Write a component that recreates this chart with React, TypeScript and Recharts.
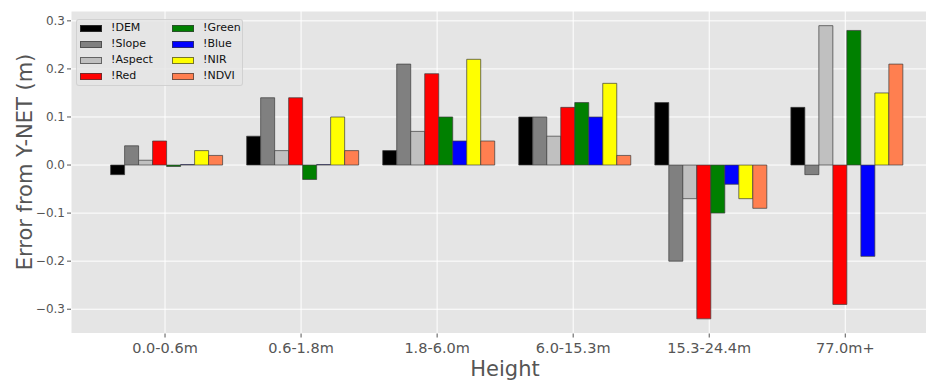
import React from "react";
import { BarChart, Bar, XAxis, YAxis, CartesianGrid, Legend } from "recharts";

const categories = ["0.0-0.6m", "0.6-1.8m", "1.8-6.0m", "6.0-15.3m", "15.3-24.4m", "77.0m+"];
const dem = [-0.02, 0.06, 0.03, 0.10, 0.13, 0.12];
const slope = [0.04, 0.14, 0.21, 0.10, -0.20, -0.02];
const aspect = [0.01, 0.03, 0.07, 0.06, -0.07, 0.29];
const red = [0.05, 0.14, 0.19, 0.12, -0.32, -0.29];
const green = [-0.003, -0.03, 0.10, 0.13, -0.10, 0.28];
const blue = [0.001, 0.001, 0.05, 0.10, -0.04, -0.19];
const nir = [0.03, 0.10, 0.22, 0.17, -0.07, 0.15];
const ndvi = [0.02, 0.03, 0.05, 0.02, -0.09, 0.21];
const yTicks = [-0.3, -0.2, -0.1, 0, 0.1, 0.2, 0.3];

const seriesNames = ["!DEM", "!Slope", "!Aspect", "!Red", "!Green", "!Blue", "!NIR", "!NDVI"];
const seriesValues = [dem, slope, aspect, red, green, blue, nir, ndvi];
const seriesColors = ["#000000", "#808080", "#C0C0C0", "#FF0000", "#008000", "#0000FF", "#FFFF00", "#FF7F50"];

const data = categories.map((c, i) => {
  const row: Record<string, string | number> = { cat: c };
  seriesNames.forEach((n, k) => {
    row[n] = seriesValues[k][i];
  });
  return row;
});

const FONT = "'DejaVu Sans', sans-serif";

const fmtY = (v: number) => (v < 0 ? "\u2212" : "") + Math.abs(v).toFixed(1);

const LegendBox = () => (
  <div
    style={{
      position: "relative",
      width: 167,
      height: 67,
      boxSizing: "border-box",
      background: "rgba(229,229,229,0.8)",
      border: "1px solid rgba(204,204,204,0.8)",
      borderRadius: 3,
      fontFamily: FONT,
      fontSize: 11,
      color: "#111",
    }}
  >
    {seriesNames.map((n, k) => {
      const col = Math.floor(k / 4);
      const row = k % 4;
      const left = 3 + col * 92;
      const cy = 8 + row * 16.1;
      return (
        <div key={n} style={{ position: "absolute", left, top: cy - 7, height: 14, display: "flex", alignItems: "center", whiteSpace: "nowrap" }}>
          <span
            style={{
              display: "inline-block",
              width: 22,
              height: 7,
              boxSizing: "border-box",
              background: seriesColors[k],
              border: "1px solid rgba(60,60,60,0.7)",
              marginRight: 9,
            }}
          />
          <span style={{ lineHeight: "14px" }}>{n}</span>
        </div>
      );
    })}
  </div>
);

const YLabel = () => (
  <text
    x={32}
    y={162}
    transform="rotate(-90 32 162)"
    textAnchor="middle"
    fill="#555555"
    fontSize={21}
    fontFamily={FONT}
  >
    Error from Y-NET (m)
  </text>
);

const XLabel = () => (
  <text x={505} y={376} textAnchor="middle" fill="#555555" fontSize={21} fontFamily={FONT}>
    Height
  </text>
);

export default function App() {
  return (
    <div style={{ position: "absolute", left: 0, top: 0, width: 926, height: 380, overflow: "hidden", background: "#fff" }}>
      <BarChart
        width={950}
        height={380}
        data={data}
        margin={{ top: 11, right: 10.7, bottom: 16.5, left: 0 }}
        barCategoryGap="10%"
        barGap={0}
      >
        <CartesianGrid stroke="#FFFFFF" strokeWidth={1} fill="#E5E5E5" />
        <XAxis
          dataKey="cat"
          height={30}
          padding={{ left: 26, right: 26 }}
          axisLine={false}
          tickSize={4}
          tickMargin={5}
          tickLine={{ stroke: "#555555" }}
          tick={{ fill: "#555555", fontSize: 14.5, fontFamily: FONT }}
          interval={0}
          label={<XLabel />}
        />
        <YAxis
          type="number"
          width={71}
          domain={[-0.3505, 0.3205]}
          allowDataOverflow
          ticks={yTicks}
          tickFormatter={fmtY}
          axisLine={false}
          tickSize={4}
          tickMargin={2}
          tickLine={{ stroke: "#555555" }}
          tick={{ fill: "#555555", fontSize: 12, fontFamily: FONT }}
          label={<YLabel />}
        />
        <Legend
          layout="vertical"
          align="center"
          verticalAlign="middle"
          content={<LegendBox />}
          wrapperStyle={{ position: "absolute", left: 76, top: 19, width: 167, height: 67, margin: 0, padding: 0 }}
        />
        {seriesNames.map((n, k) => (
          <Bar
            key={n}
            dataKey={n}
            name={n}
            fill={seriesColors[k]}
            stroke="#3c3c3c"
            strokeOpacity={0.7}
            strokeWidth={1}
            isAnimationActive={false}
          />
        ))}
      </BarChart>
    </div>
  );
}
